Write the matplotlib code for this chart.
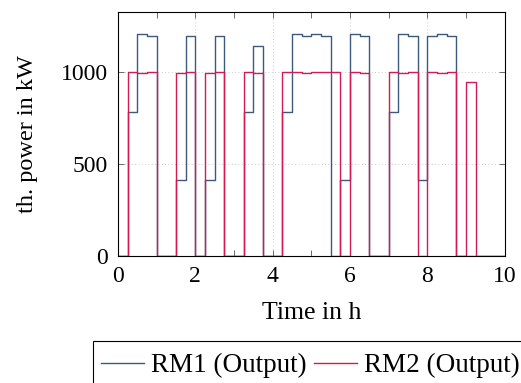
import matplotlib.pyplot as plt
from matplotlib.patches import Rectangle
import numpy as np

# 15 minute slots, 0 .. 10 h
slot_h = 0.25
rm1 = [0, 780, 1207, 1194, 0, 0, 411, 1194, 0, 411,
       1194, 0, 0, 780, 1140, 0, 0, 780, 1207, 1194,
       1207, 1194, 0, 411, 1207, 1194, 0, 0, 780, 1207,
       1194, 411, 1194, 1207, 1194, 0, 0, 0, 0, 0]
rm2 = [0, 1000, 993, 1000, 0, 0, 995, 1000, 0, 995,
       1000, 0, 0, 1000, 995, 0, 0, 1000, 1000, 993,
       998, 1000, 998, 0, 1000, 993, 0, 0, 1000, 995,
       1000, 0, 1000, 993, 1000, 0, 946, 0, 0, 0]
labels = ['RM1 (Output)', 'RM2 (Output)']
colors = ['#3d5a7c', '#d21a55']

t = np.arange(len(rm1) + 1) * slot_h

plt.rcParams['font.family'] = ['Liberation Serif', 'DejaVu Serif']
plt.rcParams['font.size'] = 17

W, H = 521, 383
fig = plt.figure(figsize=(W / 100, H / 100), dpi=100)
ax = fig.add_axes([0.2265, 0.3316, 0.7425, 0.6371])

for vals, lab, c in zip([rm1, rm2], labels, colors):
    ax.step(t, list(vals) + [0], where='post', color=c, lw=1.0, label=lab)

ax.set_xlim(0, 10)
ax.set_ylim(0, 1325)
ax.set_xticks([0, 2, 4, 6, 8, 10])
ax.set_xticks([1, 3, 5, 7, 9], minor=True)
ax.set_yticks([0, 500, 1000])
ax.tick_params(which='both', direction='in', top=True, right=True,
               length=4, width=0.6, color='#555555')
ax.tick_params(axis='x', pad=7)
ax.tick_params(axis='y', pad=7)
ax.grid(True, which='major', linestyle=(0, (1, 3)), color='#bbbbbb', lw=0.6)
for s in ax.spines.values():
    s.set_linewidth(0.8)

ax.set_xlabel('Time in h', fontsize=18.5, labelpad=11)
ax.set_ylabel('th. power in kW', fontsize=17.5, labelpad=17)

# legend box runs past the right/bottom edge of the picture
fig.legend(loc='upper left', bbox_to_anchor=(101 / W, 1 - 353 / H),
           ncol=2, frameon=False, prop={'size': 19.5},
           handlelength=1.6, handletextpad=0.25, columnspacing=0.25,
           borderpad=0, borderaxespad=0)
fig.add_artist(Rectangle((93 / W, -0.1), 1, 1 - 341 / H + 0.1,
                         transform=fig.transFigure, fill=False,
                         edgecolor='black', lw=0.8))

fig.savefig('out.png', dpi=100)
